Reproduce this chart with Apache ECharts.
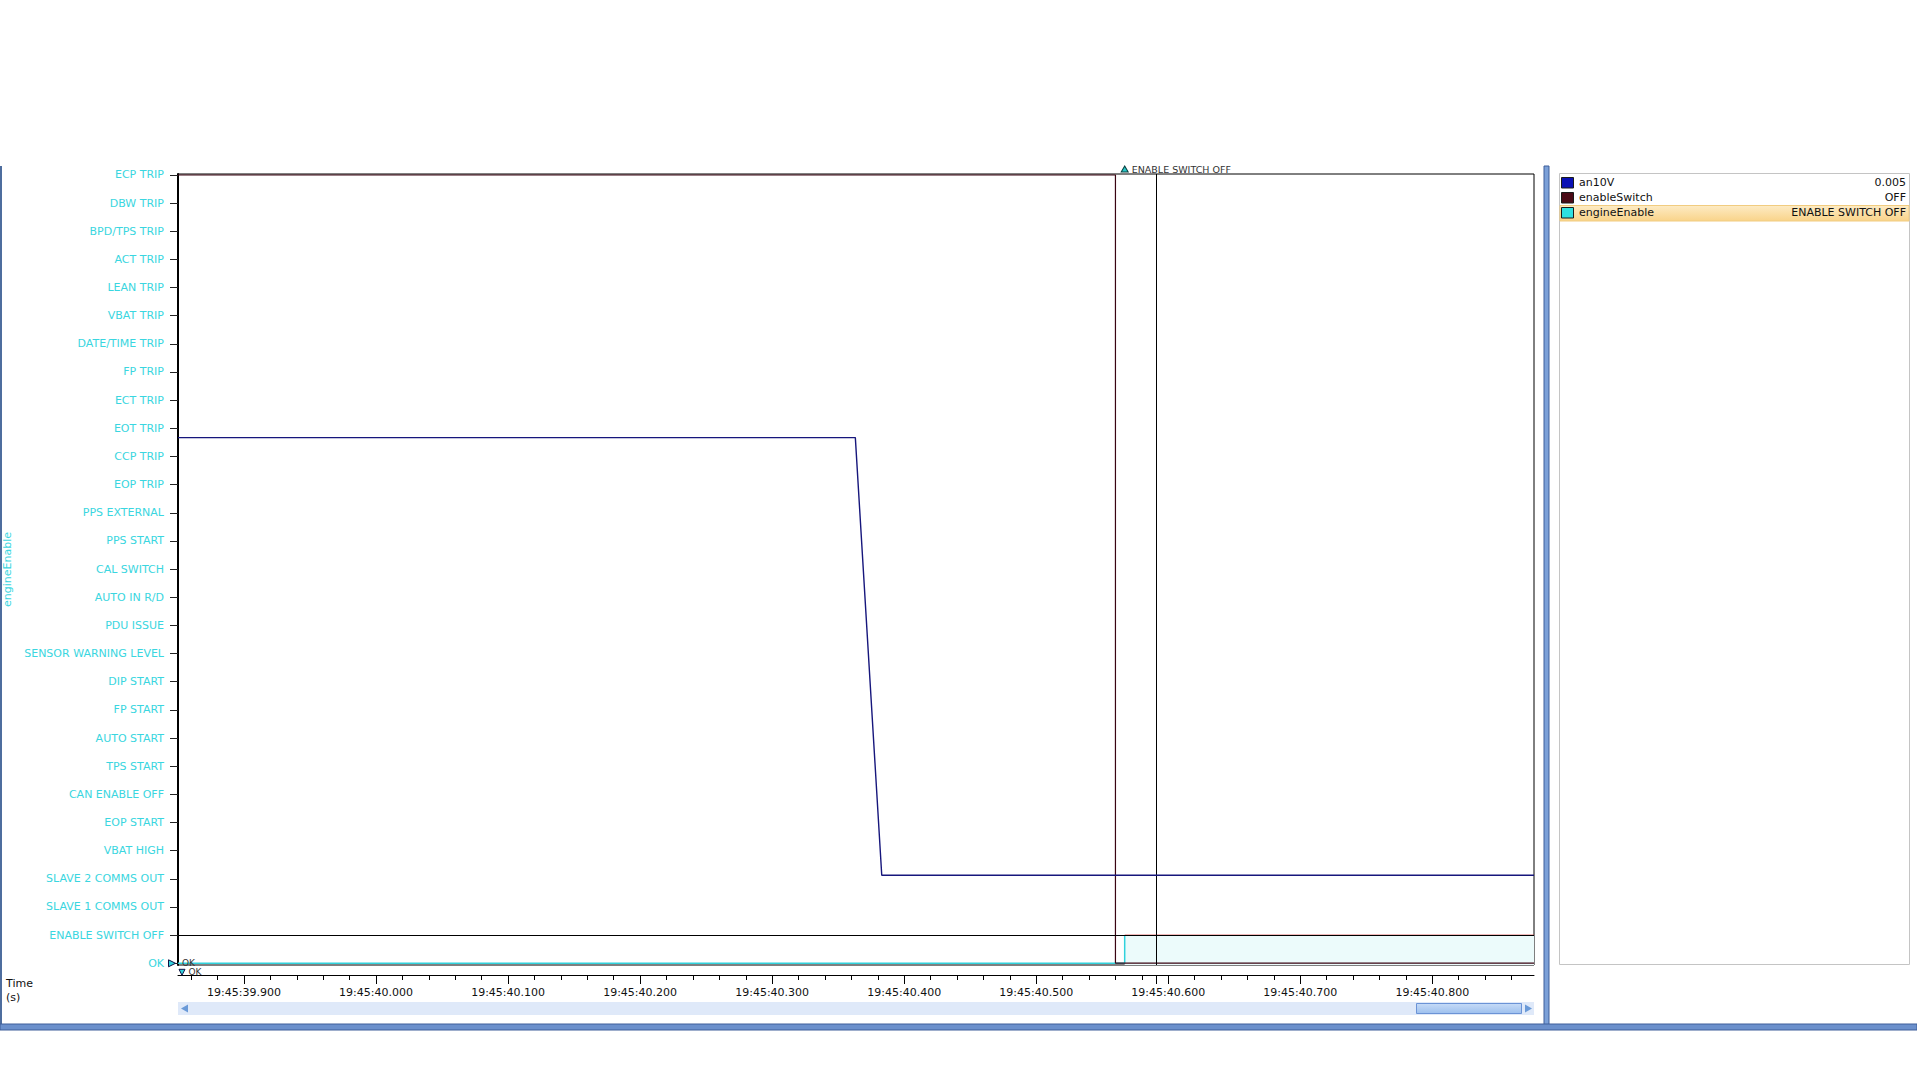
<!DOCTYPE html>
<html><head><meta charset="utf-8">
<script src="https://cdn.jsdelivr.net/npm/echarts@6/dist/echarts.min.js"></script>
<style>html,body{margin:0;padding:0;background:#fff;overflow:hidden}#c{width:1917px;height:1068px}</style>
</head><body><div id="c"></div>
<script>
// ---------- data ----------
const engineEnableStates = ['OK','ENABLE SWITCH OFF','SLAVE 1 COMMS OUT','SLAVE 2 COMMS OUT','VBAT HIGH','EOP START','CAN ENABLE OFF','TPS START','AUTO START','FP START','DIP START','SENSOR WARNING LEVEL','PDU ISSUE','AUTO IN R/D','CAL SWITCH','PPS START','PPS EXTERNAL','EOP TRIP','CCP TRIP','EOT TRIP','ECT TRIP','FP TRIP','DATE/TIME TRIP','VBAT TRIP','LEAN TRIP','ACT TRIP','BPD/TPS TRIP','DBW TRIP','ECP TRIP'];
const xTickLabels = ['19:45:39.900','19:45:40.000','19:45:40.100','19:45:40.200','19:45:40.300','19:45:40.400','19:45:40.500','19:45:40.600','19:45:40.700','19:45:40.800'];
const timeRange = ['19:45:39.850','19:45:40.877'];
const an10VTime = ['19:45:39.850','19:45:40.363','19:45:40.383','19:45:40.877'];
const an10VValue = [5.0, 5.0, 0.005, 0.005];
const enableSwitchTime = ['19:45:39.850','19:45:40.560','19:45:40.877'];
const enableSwitchValue = ['ON','OFF','OFF'];
const engineEnableTime = ['19:45:39.850','19:45:40.567','19:45:40.877'];
const engineEnableValue = ['OK','ENABLE SWITCH OFF','ENABLE SWITCH OFF'];
const cursorTime = '19:45:40.591';
const legendNames = ['an10V','enableSwitch','engineEnable'];
const legendValues = ['0.005','OFF','ENABLE SWITCH OFF'];
const markerText = 'ENABLE SWITCH OFF';

// ---------- helpers ----------
const COL_AN = '#16167c', COL_SW = '#3a0412', COL_EE = '#30d2dc', COL_RED = '#d23a3a';
const LEG_COL = ['#0a10b4', '#4a0a16', '#2ee0e0'];
const FONT = 'DejaVu Sans';
function parseT(s){const p=s.split(':');return Math.round((+p[0]*3600+ +p[1]*60+ +p[2])*1000);}
function pad(n,w){n=String(n);while(n.length<w)n='0'+n;return n;}
function fmtT(v){v=Math.round(v);const h=Math.floor(v/3600000),m=Math.floor(v/60000)%60,s=Math.floor(v/1000)%60,r=v%1000;return pad(h,2)+':'+pad(m,2)+':'+pad(s,2)+'.'+pad(r,3);}
const xMin = parseT(timeRange[0]), xMax = parseT(timeRange[1]);
const majorTicks = xTickLabels.map(parseT);
const cursorMs = parseT(cursorTime);
const minorTicks = [];
for (let t = Math.ceil(xMin/20)*20; t <= xMax; t += 20) minorTicks.push(t);
const stateIdx = engineEnableStates.map((_, i) => i);

const anData = an10VTime.map((t,i)=>[parseT(t), an10VValue[i]]);
const swData = enableSwitchTime.map((t,i)=>[parseT(t), enableSwitchValue[i]==='ON'?1:0]);
const eeData = engineEnableTime.map((t,i)=>[parseT(t), engineEnableStates.indexOf(engineEnableValue[i])]);
let k = eeData.findIndex((d,i)=> i>0 && d[1]!==eeData[i-1][1]);
const eeBefore = eeData.slice(0, k+1);
const eeAfter = eeData.slice(k);
const eeMax = 28.03, eeMin = -0.06;

const xBase = {type:'value', min:xMin, max:xMax, position:'bottom', offset:10, splitLine:{show:false}};

const chart = echarts.init(document.getElementById('c'), null, {renderer:'svg'});

// panel / window decorations
const g = [];
g.push({type:'rect', shape:{x:0,y:166,width:2,height:860}, style:{fill:'#4e6d9e'}});
g.push({type:'rect', shape:{x:1544,y:166,width:5,height:860}, style:{fill:'#7ba0d8', stroke:'#3f5f9a', lineWidth:1}});
g.push({type:'rect', shape:{x:0,y:1024,width:1917,height:6}, style:{fill:'#6b90cc', stroke:'#3f5f9a', lineWidth:1}});
g.push({type:'rect', shape:{x:1559.5,y:173.5,width:350,height:791}, style:{fill:'#fff', stroke:'#c4c4c4', lineWidth:1}});
g.push({type:'rect', shape:{x:1560,y:205.5,width:349,height:15.5}, style:{fill:new echarts.graphic.LinearGradient(0,0,0,1,[{offset:0,color:'#fdebc4'},{offset:1,color:'#f9d48a'}]), stroke:'#f1cc80', lineWidth:1}});
legendNames.forEach((n,i)=>{
  const cy = 182.5 + i*15;
  g.push({type:'rect', shape:{x:1561.5,y:cy-5,width:12,height:10.5}, style:{fill:LEG_COL[i], stroke:'#1a1a1a', lineWidth:1}});
  g.push({type:'text', x:1579, y:cy, style:{text:n, font:'11px "'+FONT+'"', fill:'#111', textVerticalAlign:'middle', textAlign:'left'}});
  g.push({type:'text', x:1906, y:cy, style:{text:legendValues[i], font:'11px "'+FONT+'"', fill:'#111', textVerticalAlign:'middle', textAlign:'right'}});
});
// scrollbar
g.push({type:'rect', shape:{x:178,y:1002,width:1356,height:13}, style:{fill:'#dfe9f9'}});
g.push({type:'rect', shape:{x:1416.5,y:1003.5,width:105,height:10}, style:{fill:new echarts.graphic.LinearGradient(0,0,0,1,[{offset:0,color:'#c6dbf7'},{offset:1,color:'#9dc0ee'}]), stroke:'#6b93d6', lineWidth:1}});
g.push({type:'polygon', shape:{points:[[181,1008.5],[188,1004.5],[188,1012.5]]}, style:{fill:'#6a9ad8'}});
g.push({type:'polygon', shape:{points:[[1532,1008.5],[1525,1004.5],[1525,1012.5]]}, style:{fill:'#6a9ad8'}});
// axis title
g.push({type:'text', x:6, y:983, style:{text:'Time', font:'11px "'+FONT+'"', fill:'#111', textVerticalAlign:'middle'}});
g.push({type:'text', x:6, y:997, style:{text:'(s)', font:'11px "'+FONT+'"', fill:'#111', textVerticalAlign:'middle'}});

chart.setOption({
  animation:false,
  backgroundColor:'#fff',
  grid:{left:178, right:383, top:174, bottom:103, show:true, borderColor:'#000', borderWidth:1, backgroundColor:'transparent', containLabel:false, outerBoundsMode:'none'},
  xAxis:[
    Object.assign({}, xBase, {axisLine:{show:true, onZero:false, lineStyle:{color:'#000', width:1}}, axisTick:{show:true, length:5, customValues:minorTicks, lineStyle:{color:'#000'}}, axisLabel:{show:false}}),
    Object.assign({}, xBase, {axisLine:{show:false, onZero:false}, axisTick:{show:true, length:9, customValues:majorTicks.concat([cursorMs]), lineStyle:{color:'#000'}},
      axisLabel:{show:true, customValues:majorTicks, margin:12, formatter:fmtT, color:'#111', fontFamily:FONT, fontSize:11}})
  ],
  yAxis:[
    {type:'value', position:'left', min:eeMin, max:eeMax, splitLine:{show:false},
     axisLine:{show:true, onZero:false, lineStyle:{color:'#000', width:2}},
     axisTick:{show:true, length:8, customValues:stateIdx, lineStyle:{color:'#222'}},
     axisLabel:{show:true, customValues:stateIdx, margin:14, formatter:v=>engineEnableStates[Math.round(v)], color:'#3ad6e0', fontFamily:FONT, fontSize:11},
     name:'engineEnable', nameLocation:'middle', nameRotate:90, nameGap:165, nameTextStyle:{color:'#3ad6e0', fontFamily:FONT, fontSize:11}},
    {type:'value', position:'left', min:-1.02, max:8.01, show:false, splitLine:{show:false}, axisLine:{onZero:false}},
    {type:'value', position:'left', min:-0.0025, max:1.0013, show:false, splitLine:{show:false}, axisLine:{onZero:false}}
  ],
  series:[
    {name:'an10V', type:'line', xAxisIndex:0, yAxisIndex:1, data:anData, showSymbol:false, symbol:'none', lineStyle:{color:COL_AN, width:1.4}, z:5,
     markLine:{silent:true, symbol:'none', label:{show:false}, lineStyle:{color:'#000', width:1, type:'solid'}, data:[{xAxis:cursorMs}]}},
    {name:'enableSwitch', type:'line', xAxisIndex:0, yAxisIndex:2, step:'end', data:swData, symbol:'none', clip:false, lineStyle:{color:COL_SW, width:1.2}, z:4},
    {name:'engineEnable', type:'line', xAxisIndex:0, yAxisIndex:0, step:'end', data:eeBefore, symbol:'none', clip:false, lineStyle:{color:COL_EE, width:1.5}, z:3,
     markLine:{silent:true, symbol:'none', label:{show:false}, lineStyle:{color:'#000', width:1, type:'solid'}, data:[{yAxis:eeAfter[0][1]}]},
     markPoint:{silent:true, data:[
       {coord:[eeData[0][0], eeData[0][1]], symbol:'triangle', symbolRotate:-90, symbolSize:[7,7], symbolOffset:[-6,0], itemStyle:{color:COL_EE, borderColor:'#114', borderWidth:1},
        label:{show:true, position:'right', distance:6, formatter:engineEnableValue[0], color:'#333', fontFamily:FONT, fontSize:9}},
       {coord:[eeData[0][0], eeData[0][1]], symbol:'triangle', symbolRotate:180, symbolSize:[6,6], symbolOffset:[4,9], itemStyle:{color:COL_EE, borderColor:'#114', borderWidth:1},
        label:{show:true, position:'right', distance:3, formatter:engineEnableValue[0], color:'#333', fontFamily:FONT, fontSize:9}}
     ]}},
    {name:'engineEnable', type:'line', xAxisIndex:0, yAxisIndex:0, data:eeAfter, symbol:'none', clip:false, lineStyle:{color:COL_RED, width:1}, areaStyle:{color:'#ecfbfb', opacity:1, origin:'start'}, z:2,
     markPoint:{silent:true, data:[
       {coord:[eeAfter[0][0], eeMax], symbol:'triangle', symbolSize:[7,6], symbolOffset:[0,-5], itemStyle:{color:'#28c8c8', borderColor:'#0a4040', borderWidth:1},
        label:{show:true, position:'right', distance:3, formatter:markerText, color:'#333', fontFamily:FONT, fontSize:9.5}}
     ]}}
  ],
  graphic:g
});
</script></body></html>
